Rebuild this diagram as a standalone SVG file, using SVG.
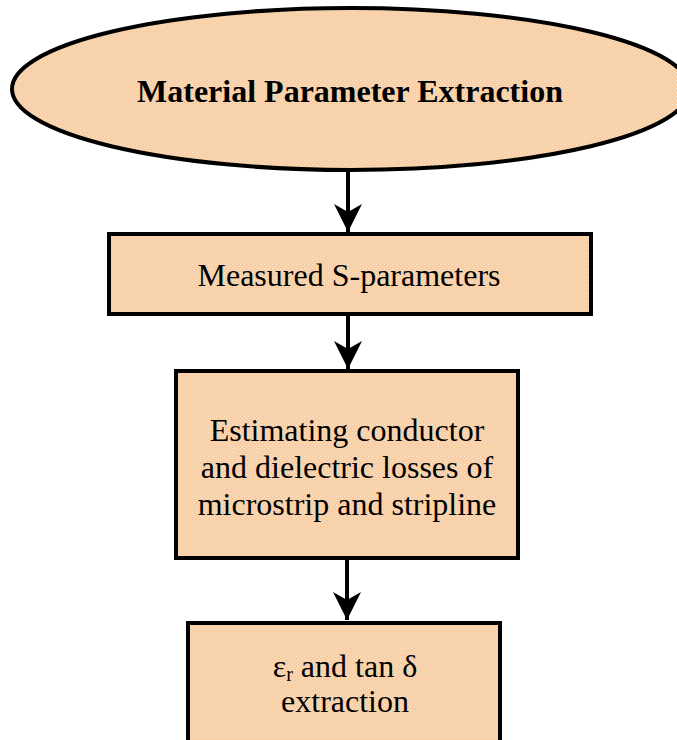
<svg xmlns="http://www.w3.org/2000/svg" width="677" height="740" viewBox="0 0 677 740">
  <defs>
    <pattern id="tex" width="4" height="4" patternUnits="userSpaceOnUse">
      <rect width="4" height="4" fill="#F9CFA3"/>
      <rect x="0" y="0" width="1" height="1" fill="#FDE7D0"/>
      <rect x="2" y="2" width="1" height="1" fill="#FDE7D0"/>
    </pattern>
    <marker id="arr" markerUnits="userSpaceOnUse" markerWidth="30" markerHeight="30" viewBox="0 0 30 30" refX="28" refY="15" orient="auto">
      <path d="M0,1 L28,15 L0,29 L8,15 Z" fill="#000"/>
    </marker>
  </defs>
  <style>
    .shape { fill: url(#tex); stroke: #000; stroke-width: 4; }
    .t { font-family: "Liberation Serif", "Times New Roman", serif; font-size: 32px; fill: #000; text-anchor: middle; }
    .b { font-weight: bold; }
    .conn { stroke: #000; stroke-width: 4; fill: none; marker-end: url(#arr); }
  </style>
  <rect width="677" height="740" fill="#fff"/>
  <g id="connectors">
    <line class="conn" x1="348" y1="170" x2="348" y2="232"/>
    <line class="conn" x1="348" y1="315" x2="348" y2="369"/>
    <line class="conn" x1="347" y1="560" x2="347" y2="620"/>
  </g>
  <g id="n1">
    <ellipse class="shape" cx="351" cy="89" rx="339" ry="81"/>
    <text class="t b" x="350" y="102">Material Parameter Extraction</text>
  </g>
  <g id="n2">
    <rect class="shape" x="109" y="234" width="482" height="80"/>
    <text class="t" x="349" y="286">Measured S-parameters</text>
  </g>
  <g id="n3">
    <rect class="shape" x="176" y="371" width="342" height="187"/>
    <text class="t" x="347" y="441">Estimating conductor</text>
    <text class="t" x="347" y="478">and dielectric losses of</text>
    <text class="t" x="347" y="515">microstrip and stripline</text>
  </g>
  <g id="n4">
    <rect class="shape" x="188" y="623" width="312" height="140"/>
    <text class="t" x="345" y="677">ε<tspan font-size="20" dy="4">r</tspan><tspan dy="-4"> and tan δ</tspan></text>
    <text class="t" x="345" y="712">extraction</text>
  </g>
</svg>
